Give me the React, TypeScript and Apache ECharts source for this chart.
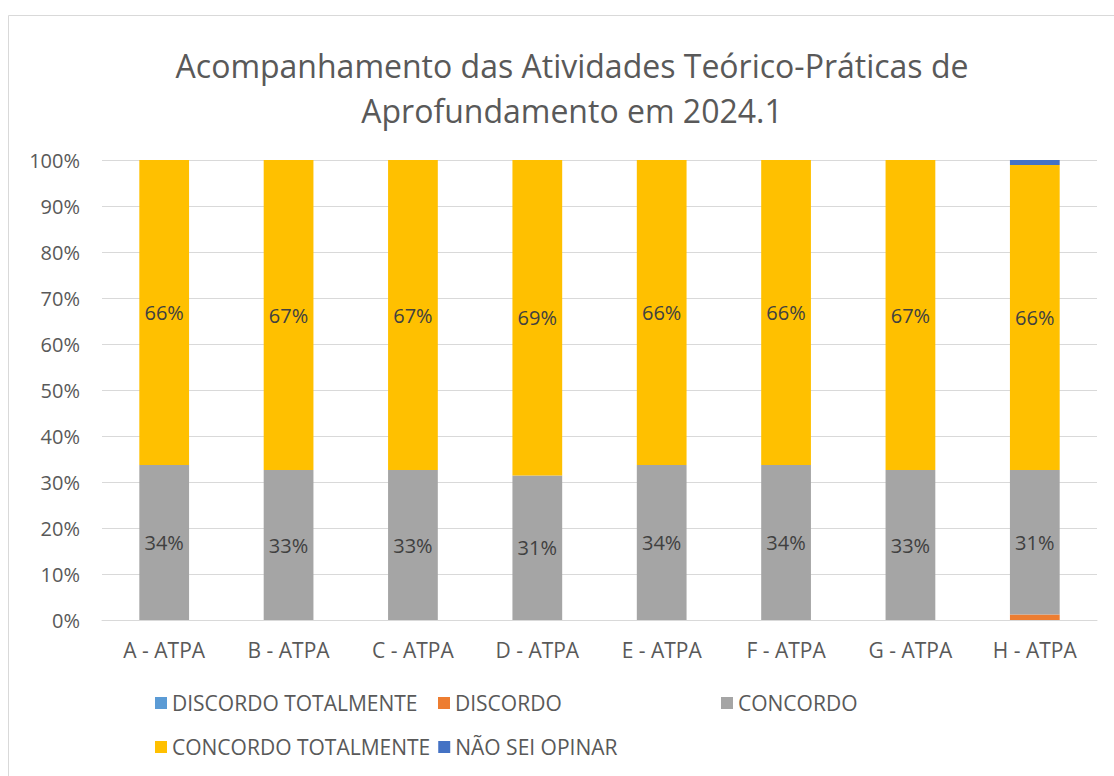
import React, { useEffect, useRef } from "react";
import * as echarts from "echarts";

const categories = ["A - ATPA", "B - ATPA", "C - ATPA", "D - ATPA", "E - ATPA", "F - ATPA", "G - ATPA", "H - ATPA"];
const seriesNames = ["DISCORDO TOTALMENTE", "DISCORDO", "CONCORDO", "CONCORDO TOTALMENTE", "NÃO SEI OPINAR"];
const discordoTotalmente = [0, 0, 0, 0, 0, 0, 0, 0];
const discordo = [0, 0, 0, 0, 0, 0, 0, 1.2];
const concordo = [33.7, 32.6, 32.6, 31.4, 33.7, 33.7, 32.6, 31.4];
const concordoTotalmente = [66.3, 67.4, 67.4, 68.6, 66.3, 66.3, 67.4, 66.3];
const naoSeiOpinar = [0, 0, 0, 0, 0, 0, 0, 1.1];
const yTicks = [0, 10, 20, 30, 40, 50, 60, 70, 80, 90, 100];
const colors = ["#5B9BD5", "#ED7D31", "#A5A5A5", "#FFC000", "#4472C4"];
const titleLines = ["Acompanhamento das Atividades Teórico-Práticas de", "Aprofundamento em 2024.1"];

const FONT = "'Open Sans', 'Noto Sans', sans-serif";

export default function App() {
  const ref = useRef<HTMLDivElement>(null);
  useEffect(() => {
    if (!ref.current) return;
    const chart = echarts.init(ref.current, null, { renderer: "svg" });
    const allData = [discordoTotalmente, discordo, concordo, concordoTotalmente, naoSeiOpinar];
    const series = seriesNames.map((name, i) => ({
      name,
      type: "bar",
      stack: "total",
      barWidth: "40%",
      itemStyle: { color: colors[i] },
      data: allData[i],
      label: {
        show: true,
        position: "inside",
        fontFamily: FONT,
        fontSize: 20,
        color: "#404040",
        formatter: (p: any) => (p.value >= 5 ? Math.round(p.value) + "%" : ""),
      },
    }));
    chart.setOption({
      animation: false,
      backgroundColor: "#ffffff",
      title: {
        text: titleLines.join("\n"),
        left: 567,
        textAlign: "center",
        top: 38,
        textStyle: { fontFamily: FONT, fontSize: 32, fontWeight: "normal", color: "#595959", lineHeight: 45 },
      },
      graphic: [
        {
          type: "rect",
          shape: { x: 8.5, y: 15.5, width: 1200, height: 900 },
          style: { fill: "none", stroke: "#d9d9d9", lineWidth: 1 },
          silent: true,
          z: -1,
        },
      ],
      legend: {
        data: seriesNames,
        left: 150,
        top: 680,
        width: 900,
        itemWidth: 12,
        itemHeight: 12,
        itemGap: 8,
        icon: "rect",
        textStyle: { fontFamily: FONT, fontSize: 21, color: "#595959", width: 258, lineHeight: 36, overflow: "none" },
      },
      grid: { left: 102, right: 17, top: 160, bottom: 156, containLabel: false },
      xAxis: {
        type: "category",
        data: categories,
        axisLine: { lineStyle: { color: "#d9d9d9" } },
        axisTick: { show: false },
        axisLabel: { fontFamily: FONT, fontSize: 21, color: "#595959", margin: 19 },
      },
      yAxis: {
        type: "value",
        min: yTicks[0],
        max: yTicks[yTicks.length - 1],
        interval: 10,
        axisLine: { show: false },
        axisTick: { show: false },
        splitLine: { lineStyle: { color: "#d9d9d9" } },
        axisLabel: { fontFamily: FONT, fontSize: 20, color: "#595959", margin: 22, formatter: (v: number) => v + "%" },
      },
      series,
    });
    return () => chart.dispose();
  }, []);
  return (
    <div style={{ position: "fixed", left: 0, top: 0, width: 1114, height: 776, background: "#fff" }}>
      <div ref={ref} style={{ width: 1114, height: 776 }} />
    </div>
  );
}
